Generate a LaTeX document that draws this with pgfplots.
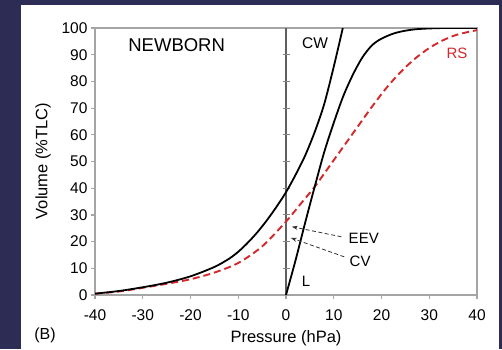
\documentclass[border=0pt]{standalone}
\usepackage{pgfplots}
\pgfplotsset{compat=1.18}
\usepackage{fontspec}
\setmainfont{Liberation Sans}
\usetikzlibrary{arrows.meta}
\definecolor{bg}{RGB}{44,44,84}
\definecolor{rsred}{RGB}{212,40,44}
\definecolor{framegray}{RGB}{165,165,165}
\definecolor{zerogray}{RGB}{95,95,95}
\begin{document}
\begin{tikzpicture}
\fill[bg] (0pt,0pt) rectangle (502pt,349pt);
\fill[white] (21pt,0pt) rectangle (499pt,344pt);
\begin{axis}[
  at={(95pt,54pt)}, anchor=south west,
  width=382pt, height=267pt, scale only axis,
  xmin=-40, xmax=40, ymin=0, ymax=100,
  xtick={-40,-30,...,40}, ytick={0,10,...,100},
  tick align=outside, xtick pos=bottom, ytick pos=left,
  major tick length=4pt,
  axis line style={framegray, line width=1.5pt},
  every tick/.style={framegray, line width=1.2pt},
  tick label style={font=\fontsize{15.5}{17}\selectfont},
  xticklabel style={yshift=-7pt},
  /pgf/number format/assume math mode=true,
  xlabel={Pressure (hPa)},
  label style={font=\fontsize{16.5}{18}\selectfont},
  xlabel style={at={(axis description cs:0.5,0)}, anchor=center, yshift=-43pt},
]
% zero line with ticks
\draw[zerogray, line width=1.1pt] (axis cs:0,0) -- (axis cs:0,100);
\pgfplotsinvokeforeach{10,20,30,40,50,60,70,80,90}{
  \draw[framegray!80!black, line width=1.1pt] ([xshift=-3.5pt]axis cs:0,#1) -- ([xshift=3.5pt]axis cs:0,#1);
}
% RS (respiratory system)
\addplot[rsred, line width=1.9pt, dash pattern=on 7pt off 4pt, smooth] coordinates {
(-40,0.5) (-35,1.3) (-30,2.7) (-25,4.2) (-20,5.9) (-15,8.4) (-10,12.0) (-5,18.2)
(0,27.5) (3,34) (6,40.5) (9,48) (12,55.5) (15,63) (18,70.5) (21,77.5) (24,83.5)
(27,88.5) (30,92.5) (33,95.5) (36,97.6) (40,99.2)};
% CW (chest wall)
\addplot[black, line width=1.8pt, smooth] coordinates {
(-40,0.5) (-35,1.5) (-30,2.9) (-25,4.6) (-20,7.0) (-15,10.5) (-12,13.5) (-10,16.2)
(-8,19.6) (-6,23.5) (-4,28) (-2,33) (0,38.5) (2,45) (4,52.2) (6,61) (8,71.5)
(10,85.5) (11.9,100)};
% L (lung)
\addplot[black, line width=1.8pt, smooth] coordinates {
(0,0) (2,13) (4,27) (6,40.5) (8,53.5) (10,64.5) (12,74.5) (14,82.5) (16,89)
(18,93.5) (20,96) (23,98.2) (27,99.5) (33,100) (40,100)};
% annotations
\draw[black!80, line width=0.8pt, dash pattern=on 4pt off 2.5pt, -{Stealth[length=6pt,width=4pt]}]
  (axis cs:11.6,21.8) -- (axis cs:1.2,25.6);
\draw[black!80, line width=0.8pt, dash pattern=on 4pt off 2.5pt, -{Stealth[length=6pt,width=4pt]}]
  (axis cs:12.2,14.3) -- (axis cs:1.0,21.4);
\node[anchor=west, font=\fontsize{15}{16}\selectfont] at (axis cs:12.4,21.2) {EEV};
\node[anchor=west, font=\fontsize{15}{16}\selectfont] at (axis cs:12.6,12.5) {CV};
\node[font=\fontsize{18.5}{20}\selectfont] at (axis cs:-22.9,93.6) {NEWBORN};
\node[font=\fontsize{15.5}{17}\selectfont] at (axis cs:6.1,94.3) {CW};
\node[font=\fontsize{15}{16}\selectfont, text=rsred] at (axis cs:35.8,90.5) {RS};
\node[font=\fontsize{15}{16}\selectfont] at (axis cs:4.2,5) {L};
\end{axis}
\node[font=\fontsize{16.5}{18}\selectfont, rotate=90] at (43pt,188pt) {Volume (\%TLC)};
\node[font=\fontsize{16}{18}\selectfont] at (45pt,14pt) {(B)};
\pgfresetboundingbox
\useasboundingbox (0pt,0pt) rectangle (502pt,349pt);
\end{tikzpicture}
\end{document}
